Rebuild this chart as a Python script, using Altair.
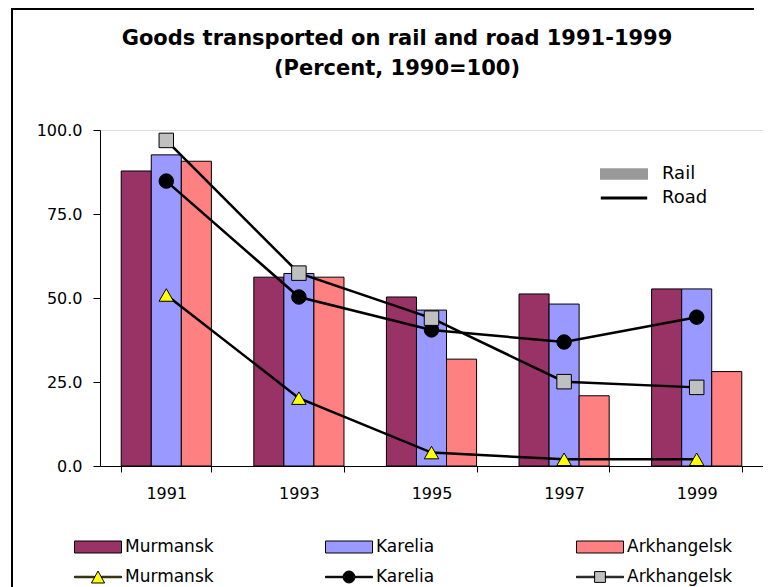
import altair as alt
import pandas as pd

years = ["1991", "1993", "1995", "1997", "1999"]
regions = ["Murmansk", "Karelia", "Arkhangelsk"]
rail_murmansk = [87.8, 56.2, 50.3, 51.2, 52.7]
rail_karelia = [92.6, 57.3, 46.4, 48.2, 52.7]
rail_arkhangelsk = [90.7, 56.2, 31.8, 20.9, 28.1]
road_murmansk = [50.9, 20.2, 4.0, 2.0, 2.0]
road_karelia = [84.8, 50.3, 40.5, 36.9, 44.3]
road_arkhangelsk = [96.9, 57.4, 44.0, 25.1, 23.4]
modes = ["Rail", "Road"]
title_lines = ["Goods transported on rail and road 1991-1999", "(Percent, 1990=100)"]
y_ticks = [0, 25, 50, 75, 100]

bar_colors = ["#993366", "#9999FF", "#FF8080"]
marker_colors = ["#FFFF00", "#000000", "#C0C0C0"]
marker_shapes = ["triangle-up", "circle", "square"]
mode_colors = ["#999999", "#000000"]

FONT = "DejaVu Sans"

rail = pd.DataFrame({
    "year": years * 3,
    "region": [r for r in regions for _ in years],
    "value": rail_murmansk + rail_karelia + rail_arkhangelsk,
})
road = pd.DataFrame({
    "year": years * 3,
    "region": [r for r in regions for _ in years],
    "value": road_murmansk + road_karelia + road_arkhangelsk,
})
mode_df = pd.DataFrame({"mode": modes})

x_enc = alt.X(
    "year:N", sort=years,
    scale=alt.Scale(domain=years, paddingInner=0.32, paddingOuter=0.16),
    axis=alt.Axis(title=None, tickBand="extent", labelAngle=0, tickSize=6,
                  labelPadding=13, labelFont=FONT, labelFontSize=16,
                  labelColor="black", domainColor="black", tickColor="black",
                  grid=False),
)
y_enc = alt.Y(
    "value:Q",
    scale=alt.Scale(domain=[0, 100], nice=False),
    axis=alt.Axis(title=None, values=y_ticks, format=".1f", tickSize=7,
                  labelPadding=11, labelFont=FONT, labelFontSize=16,
                  labelColor="black", domainColor="black", tickColor="black",
                  grid=False),
)

# chart-area frame (decoration): left and top edges
frame_src = pd.DataFrame({"f": [0]})
frame_left = alt.Chart(frame_src).mark_rule(color="black", strokeWidth=2).encode(
    x=alt.value(-88), y=alt.value(-122), y2=alt.value(700)
)
frame_top = alt.Chart(frame_src).mark_rect(color="black").encode(
    x=alt.value(-89), x2=alt.value(654), y=alt.value(-122), y2=alt.value(-120)
)

bar_sym = "M-1,-0.255H1V0.255H-1Z"
bar_legend = alt.Legend(
    orient="none", legendX=-26, legendY=393, direction="horizontal", columns=3,
    gridAlign="all", columnPadding=92, title=None, padding=0,
    symbolType=bar_sym, symbolSize=2209, symbolStrokeColor="black",
    symbolStrokeWidth=1, labelFont=FONT, labelFontSize=17, labelColor="black",
    labelOffset=3,
)
bars = alt.Chart(rail).mark_bar(stroke="black", strokeWidth=1).encode(
    x=x_enc,
    xOffset=alt.XOffset("region:N", sort=regions,
                        scale=alt.Scale(domain=regions, paddingInner=0, paddingOuter=0)),
    y=y_enc,
    fill=alt.Fill("region:N", scale=alt.Scale(domain=regions, range=bar_colors),
                  legend=bar_legend),
)

lines = alt.Chart(road).mark_line(color="black", strokeWidth=2.5).encode(
    x=x_enc, y=y_enc, detail="region:N"
)

points = alt.Chart(road).mark_point(filled=True, size=210, opacity=1,
                                     stroke="black", strokeWidth=1).encode(
    x=x_enc, y=y_enc,
    shape=alt.Shape("region:N", scale=alt.Scale(domain=regions, range=marker_shapes),
                    legend=None),
    fill=alt.Fill("region:N", scale=alt.Scale(domain=regions, range=marker_colors),
                  legend=None),
)

line_syms = [
    "M-1,-0.03H-0.15V0.03H-1Z M0.15,-0.03H1V0.03H0.15Z M-0.28,0.255L0,-0.255L0.28,0.255Z",
    "M-1,-0.03H-0.2V0.03H-1Z M0.2,-0.03H1V0.03H0.2Z M-0.255,0A0.255,0.255,0,1,0,0.255,0A0.255,0.255,0,1,0,-0.255,0Z",
    "M-1,-0.03H-0.23V0.03H-1Z M0.23,-0.03H1V0.03H0.23Z M-0.23,-0.23H0.23V0.23H-0.23Z",
]
line_legend = alt.Legend(
    orient="none", legendX=-26, legendY=423, direction="horizontal", columns=3,
    gridAlign="all", columnPadding=92, title=None, padding=0,
    symbolSize=2209, symbolStrokeWidth=1,
    symbolOpacity=1, labelFont=FONT, labelFontSize=17, labelColor="black",
    labelOffset=3,
)
road_key = alt.Chart(road).mark_point(filled=True, strokeWidth=1).encode(
    shape=alt.Shape("region:N", scale=alt.Scale(domain=regions, range=line_syms),
                    legend=line_legend),
    fill=alt.Fill("region:N", scale=alt.Scale(domain=regions, range=marker_colors),
                  legend=line_legend),
    stroke=alt.Stroke("region:N", scale=alt.Scale(domain=regions,
                                                  range=["black", "black", "black"]),
                      legend=line_legend),
).transform_filter("false")

mode_syms = ["M-3,-0.72H3V0.72H-3Z", "M-2.9,-0.19H2.9V0.19H-2.9Z"]
mode_legend = alt.Legend(
    orient="none", legendX=515, legendY=35, direction="vertical", title=None,
    padding=0, symbolSize=256, symbolStrokeWidth=0, symbolOpacity=1,
    labelFont=FONT, labelFontSize=18, labelColor="black", labelOffset=29,
    rowPadding=6,
)
mode_key = alt.Chart(mode_df).mark_point(filled=True).encode(
    shape=alt.Shape("mode:N", scale=alt.Scale(domain=modes, range=mode_syms),
                    legend=mode_legend),
    fill=alt.Fill("mode:N", scale=alt.Scale(domain=modes, range=mode_colors),
                  legend=mode_legend),
).transform_filter("false")

chart = alt.layer(frame_left, frame_top, bars, lines, points, road_key, mode_key).resolve_scale(
    fill="independent", shape="independent", stroke="independent"
).properties(
    width=663, height=336,
    autosize=alt.AutoSizeParams(type="none"),
    padding={"left": 92, "top": 122, "right": 0, "bottom": 121},
    title=alt.TitleParams(
        text=title_lines, font=FONT, fontSize=21, fontWeight="bold", color="black",
        anchor="middle", frame="group", baseline="top", offset=0, dx=-34.5, dy=72,
        lineHeight=30,
    ),
).configure_view(stroke="#999999", strokeWidth=1).configure(background="white")

chart.save("out.html", embed_options={"renderer": "svg", "actions": False})
